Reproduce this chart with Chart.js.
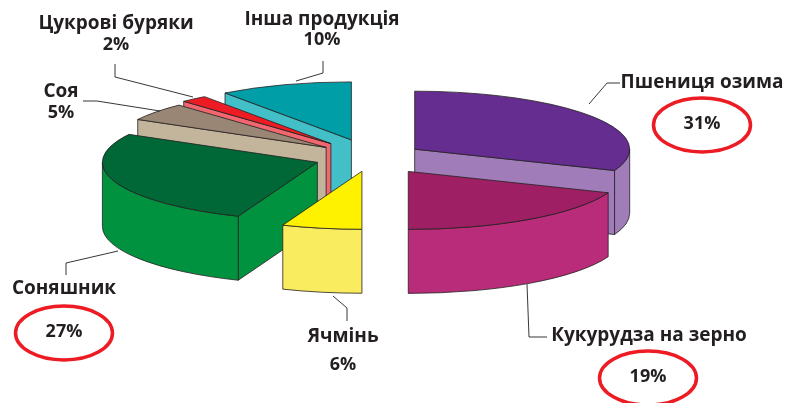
<!DOCTYPE html>
<html>
<head>
<meta charset="utf-8">
<style>
  html, body { margin: 0; padding: 0; background: #fff; }
  canvas { display: block; }
</style>
<script src="https://cdn.jsdelivr.net/npm/chart.js@4/dist/chart.umd.js"></script>
</head>
<body>
<canvas id="pie" width="794" height="403"></canvas>
<script>
// Дані діаграми
const categories = ["Пшениця озима", "Кукурудза на зерно", "Ячмінь", "Соняшник", "Соя", "Цукрові буряки", "Інша продукція"];
const shares = [31, 19, 6, 27, 5, 2, 10];

// Кольори: верх сектора та його бічна стінка
const topColors = ["#662d91", "#9e1f63", "#fff200", "#006837", "#998675", "#ed1c24", "#009fa8"];
const wallColors = ["#a07cb8", "#b92c7a", "#f9ed5f", "#00923f", "#c2b59b", "#f26670", "#43bfc7"];

// Винесення секторів, у % від радіуса, і порядок малювання (від дальніх до ближніх)
const explode = [24, 30, 25, 27, 27, 30, 31];
const drawOrder = [6, 5, 4, 0, 3, 1, 2];

// Положення "3D" пирога на сторінці
const view = { x: 372, y: 157, rx: 215, ry: 58, height: 64 };

// Підписи: [x, y] назви і відсотка, oval - червоний овал навколо відсотка
const labelPos = [
  { name: [702, 83], pct: [702, 124], oval: true },
  { name: [649, 336], pct: [648, 377], oval: true },
  { name: [343, 337], pct: [343, 365] },
  { name: [64, 289], pct: [64, 332], oval: true },
  { name: [61, 92], pct: [61, 113] },
  { name: [116, 24], pct: [116, 45] },
  { name: [322, 20], pct: [322, 40] },
];
const leaders = [
  [[589, 104], [607, 83], [620, 83]],
  [[527, 284], [529, 337], [547, 337]],
  [[333, 296], [347, 308], [347, 321]],
  [[118, 251], [66, 263], [66, 275]],
  [[83, 101], [97, 101], [160, 111]],
  [[115, 64], [115, 77], [193, 97]],
  [[323, 61], [323, 73], [296, 81]],
];

const outline = "#231f20";

function strokeOutline(ctx) {
  // Обведення робиться без масштабу, щоб лінія була рівної товщини
  ctx.save();
  ctx.setTransform(1, 0, 0, 1, 0, 0);
  ctx.strokeStyle = outline;
  ctx.lineWidth = 0.8;
  ctx.lineJoin = "round";
  ctx.stroke();
  ctx.restore();
}

function drawSlice(ctx, arc, i, thick) {
  const a0 = arc.startAngle;
  const a1 = arc.endAngle;
  const mid = (a0 + a1) / 2;
  const R = arc.outerRadius;
  const dist = (explode[i] / 100) * R;
  const ex = Math.cos(mid) * dist;
  const ey = Math.sin(mid) * dist;
  const ox = arc.x + ex;
  const oy = arc.y + ey;

  // Бічні грані видно лише ті, що дивляться на глядача
  const faces = [];
  if (Math.cos(a0) < -1e-6) faces.push(a0);
  if (Math.cos(a1) > 1e-6) faces.push(a1);
  faces.forEach(function (a) {
    const px = ox + Math.cos(a) * R;
    const py = oy + Math.sin(a) * R;
    ctx.beginPath();
    ctx.moveTo(ox, oy);
    ctx.lineTo(px, py);
    ctx.lineTo(px, py + thick);
    ctx.lineTo(ox, oy + thick);
    ctx.closePath();
    ctx.fillStyle = wallColors[i];
    ctx.fill();
    strokeOutline(ctx);
  });

  // Зовнішня стінка
  const s = Math.max(a0, 0);
  const e = Math.min(a1, Math.PI);
  if (e > s) {
    ctx.beginPath();
    ctx.arc(ox, oy, R, s, e);
    ctx.arc(ox, oy + thick, R, e, s, true);
    ctx.closePath();
    ctx.fillStyle = wallColors[i];
    ctx.fill();
    strokeOutline(ctx);
  }

  // Верх малює сам елемент Chart.js
  ctx.save();
  ctx.translate(ex, ey);
  arc.draw(ctx);
  ctx.restore();

  ctx.beginPath();
  ctx.moveTo(ox, oy);
  ctx.arc(ox, oy, R, a0, a1);
  ctx.closePath();
  strokeOutline(ctx);
}

const pie3d = {
  id: "pie3d",
  beforeDatasetsDraw(chart) {
    const ctx = chart.ctx;
    const arcs = chart.getDatasetMeta(0).data;
    const sx = view.rx / arcs[0].outerRadius;
    const sy = view.ry / arcs[0].outerRadius;
    ctx.save();
    ctx.translate(view.x, view.y);
    ctx.scale(sx, sy);
    ctx.translate(-arcs[0].x, -arcs[0].y);
    drawOrder.forEach(function (i) {
      drawSlice(ctx, arcs[i], i, view.height / sy);
    });
    ctx.restore();
    return false;
  },
  afterDraw(chart) {
    const ctx = chart.ctx;
    ctx.save();
    // Лінії-виноски
    ctx.strokeStyle = outline;
    ctx.lineWidth = 0.9;
    leaders.forEach(function (line) {
      ctx.beginPath();
      line.forEach(function (p, k) {
        if (k === 0) ctx.moveTo(p[0], p[1]);
        else ctx.lineTo(p[0], p[1]);
      });
      ctx.stroke();
    });
    // Підписи
    ctx.fillStyle = outline;
    ctx.textAlign = "center";
    ctx.textBaseline = "middle";
    categories.forEach(function (name, i) {
      const pos = labelPos[i];
      ctx.font = "bold 19px 'Open Sans'";
      ctx.fillText(name, pos.name[0], pos.name[1]);
      ctx.font = "bold 18px 'Open Sans'";
      ctx.fillText(shares[i] + "%", pos.pct[0], pos.pct[1]);
      if (pos.oval) {
        ctx.beginPath();
        ctx.ellipse(pos.pct[0], pos.pct[1] + 1, 48.5, 27, 0, 0, Math.PI * 2);
        ctx.strokeStyle = "#ed1c24";
        ctx.lineWidth = 3.5;
        ctx.stroke();
      }
    });
    ctx.restore();
  },
};

new Chart(document.getElementById("pie"), {
  type: "pie",
  data: {
    labels: categories,
    datasets: [
      {
        data: shares,
        backgroundColor: topColors,
        borderWidth: 0,
      },
    ],
  },
  options: {
    responsive: false,
    animation: false,
    events: [],
    radius: 100,
    plugins: {
      legend: { display: false },
      tooltip: { enabled: false },
    },
  },
  plugins: [pie3d],
});
</script>
</body>
</html>
